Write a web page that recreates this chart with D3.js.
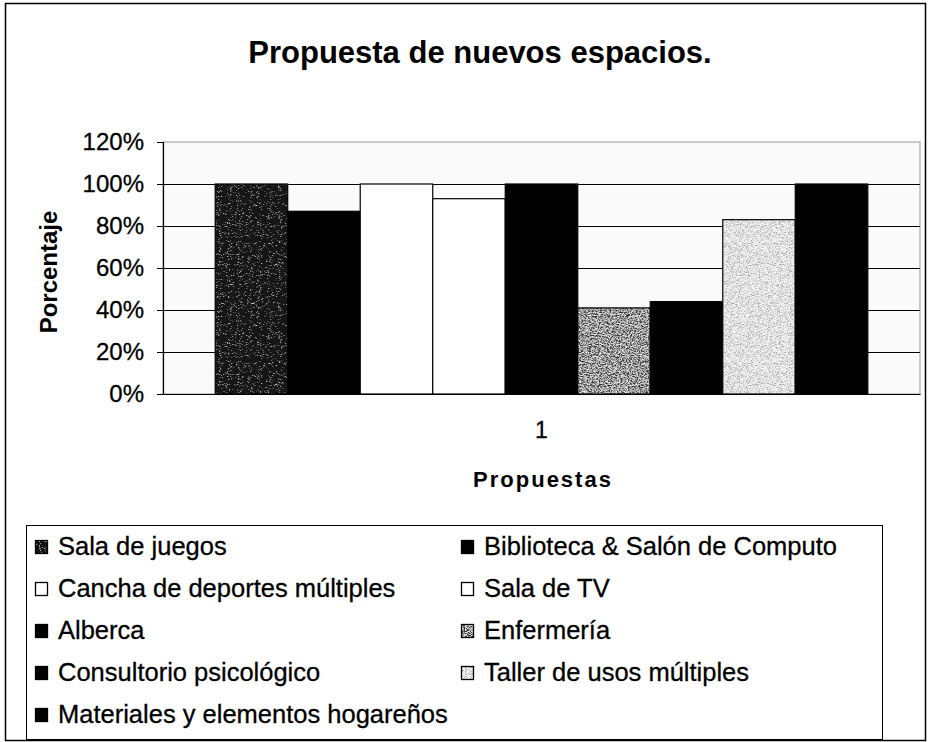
<!DOCTYPE html>
<html>
<head>
<meta charset="utf-8">
<script src="https://cdn.jsdelivr.net/npm/d3@7/dist/d3.min.js"></script>
<style>
  html, body { margin: 0; padding: 0; background: #fff; }
  svg { display: block; font-family: Arial, "Liberation Sans", sans-serif; }
</style>
</head>
<body>
<svg id="chart" width="929" height="742"></svg>
<script>
const categories = ["1"];
const series = [
  "Sala de juegos",
  "Biblioteca & Salón de Computo",
  "Cancha de deportes múltiples",
  "Sala de TV",
  "Alberca",
  "Enfermería",
  "Consultorio psicológico",
  "Taller de usos múltiples",
  "Materiales y elementos hogareños"
];
const values = [1.00, 0.87, 1.00, 0.93, 1.00, 0.41, 0.44, 0.83, 1.00];
const fills = ["url(#texDark)", "#000", "#fff", "#fff", "#000", "url(#texMid)", "#000", "url(#texLight)", "#000"];
const yTicks = [0, 0.2, 0.4, 0.6, 0.8, 1.0, 1.2];

const svg = d3.select("#chart");
const defs = svg.append("defs");

// speckle textures
function texture(id, base, speckle, freq, slope, intercept) {
  const f = defs.append("filter").attr("id", id + "F").attr("x", 0).attr("y", 0).attr("width", 1).attr("height", 1);
  f.append("feTurbulence").attr("type", "fractalNoise").attr("baseFrequency", freq).attr("numOctaves", 2).attr("seed", 3).attr("result", "n");
  f.append("feColorMatrix").attr("in", "n").attr("type", "matrix")
    .attr("values", `0 0 0 0 ${speckle} 0 0 0 0 ${speckle} 0 0 0 0 ${speckle} ${slope} 0 0 0 ${intercept}`).attr("result", "s");
  f.append("feFlood").attr("flood-color", base).attr("result", "b");
  f.append("feComposite").attr("in", "s").attr("in2", "b").attr("operator", "over");
  const p = defs.append("pattern").attr("id", id).attr("patternUnits", "userSpaceOnUse").attr("width", 120).attr("height", 120);
  p.append("rect").attr("width", 120).attr("height", 120).attr("filter", `url(#${id}F)`);
}
texture("texDark", "#161616", 0.7, 0.9, 6, -3.8);
texture("texMid", "#333333", 0.85, 0.9, 4, -1.6);
texture("texLight", "#f6f6f6", 0.35, 0.9, 4, -1.8);

// outer border
svg.append("rect").attr("x", 5.5).attr("y", 3.5).attr("width", 920).attr("height", 737)
  .attr("fill", "#fff").attr("stroke", "#000").attr("stroke-width", 1.5);

const plot = { left: 163, right: 920, top: 142, bottom: 394 };

const x0 = d3.scaleBand().domain(categories).range([plot.left, plot.right]).paddingInner(0).paddingOuter(0.08);
const x1 = d3.scaleBand().domain(series).range([0, x0.bandwidth()]).padding(0);
const y = d3.scaleLinear().domain([0, 1.2]).range([plot.bottom, plot.top]);

// plot area
svg.append("rect").attr("x", plot.left).attr("y", plot.top)
  .attr("width", plot.right - plot.left).attr("height", plot.bottom - plot.top)
  .attr("fill", "#fafafa").attr("stroke", "#9a9a9a").attr("stroke-width", 1);

// gridlines
svg.append("g").selectAll("line").data(yTicks.filter(d => d > 0 && d < 1.2)).join("line")
  .attr("x1", plot.left).attr("x2", plot.right)
  .attr("y1", d => Math.round(y(d)) + 0.5).attr("y2", d => Math.round(y(d)) + 0.5)
  .attr("stroke", "#000").attr("stroke-width", 1);

// bars
svg.append("g").selectAll("g").data(categories).join("g")
  .attr("transform", d => `translate(${x0(d)},0)`)
  .selectAll("rect").data(series.map((s, i) => ({ s, v: values[i], f: fills[i] }))).join("rect")
  .attr("x", d => x1(d.s)).attr("width", x1.bandwidth())
  .attr("y", d => y(d.v)).attr("height", d => y(0) - y(d.v))
  .attr("fill", d => d.f).attr("stroke", "#000").attr("stroke-width", 1.2);

// y axis
const yAxis = d3.axisLeft(y).tickValues(yTicks).tickFormat(d3.format(".0%")).tickSize(6).tickPadding(13);
const gy = svg.append("g").attr("transform", `translate(${plot.left},0)`).call(yAxis);
gy.select(".domain").attr("stroke", "#000").attr("stroke-width", 1.2);
gy.selectAll(".tick line").attr("stroke", "#000");
gy.selectAll(".tick text").attr("font-size", 24).attr("font-family", "Arial, 'Liberation Sans', sans-serif")
  .attr("fill", "#000").attr("stroke", "#000").attr("stroke-width", 0.3);

// x axis
const xAxis = d3.axisBottom(x0).tickSize(0).tickPadding(28);
const gx = svg.append("g").attr("transform", `translate(0,${plot.bottom})`).call(xAxis);
gx.select(".domain").attr("stroke", "#000").attr("stroke-width", 1.2);
gx.selectAll(".tick text").attr("font-size", 23).attr("font-family", "Arial, 'Liberation Sans', sans-serif")
  .attr("fill", "#000").attr("stroke", "#000").attr("stroke-width", 0.3);

// titles
svg.append("text").attr("x", 480).attr("y", 63).attr("text-anchor", "middle")
  .attr("font-size", 31).attr("font-weight", "bold").text("Propuesta de nuevos espacios.");
svg.append("text").attr("transform", `translate(57,272) rotate(-90)`).attr("text-anchor", "middle")
  .attr("font-size", 24).attr("font-weight", "bold").text("Porcentaje");
svg.append("text").attr("x", 543).attr("y", 487).attr("text-anchor", "middle")
  .attr("font-size", 22).attr("font-weight", "bold").attr("letter-spacing", 2).text("Propuestas");

// legend
const leg = svg.append("g");
leg.append("rect").attr("x", 26.5).attr("y", 525.5).attr("width", 856).attr("height", 214)
  .attr("fill", "#fff").attr("stroke", "#000").attr("stroke-width", 1);
const items = leg.selectAll("g").data(series.map((s, i) => ({ s, i, f: fills[i] }))).join("g")
  .attr("transform", d => `translate(${d.i % 2 === 0 ? 35 : 461},${555 + Math.floor(d.i / 2) * 42})`);
items.append("rect").attr("x", 0.5).attr("y", -14.5).attr("width", 12).attr("height", 13)
  .attr("fill", d => d.f).attr("stroke", "#000").attr("stroke-width", 1.3);
items.append("text").attr("x", 23).attr("y", 0).attr("font-size", 25.5).attr("fill", "#000")
  .attr("stroke", "#000").attr("stroke-width", 0.3).text(d => d.s);
</script>
</body>
</html>
